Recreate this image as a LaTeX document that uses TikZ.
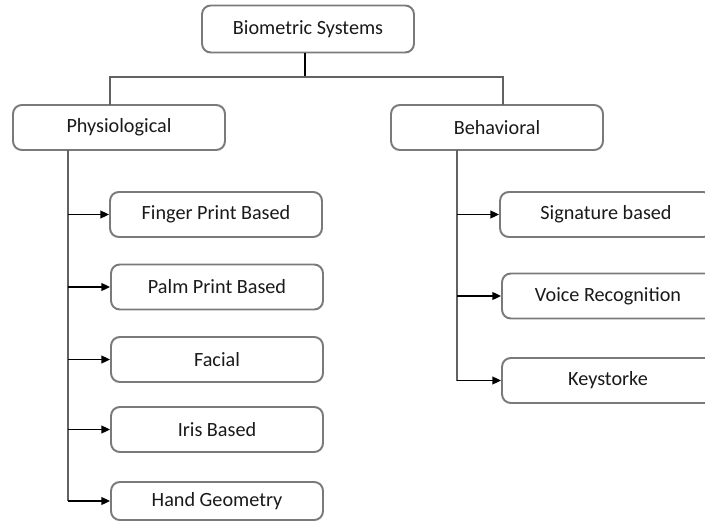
\documentclass[tikz,border=0pt]{standalone}
\usepackage{fontspec}
\setmainfont{Carlito}
\usetikzlibrary{arrows.meta,positioning,calc}
\definecolor{Ink}{HTML}{1A1A1A}
\definecolor{Edge}{HTML}{7A7A7A}

\begin{document}
\begin{tikzpicture}[x=0.02cm,y=-0.02cm,
  box/.style={draw=Edge,line width=1.1pt,rounded corners=5pt,fill=white,minimum width=4.24cm,minimum height=0.9cm,inner sep=0pt,font=\fontsize{11.5}{13}\selectfont,text=Ink},
  link/.style={draw=Edge!80!black,line width=1.1pt},
  arr/.style={draw=black,line width=0.9pt,-{Triangle[length=5pt,width=4.5pt]}}]
\useasboundingbox (0,0) rectangle (705,523);
\clip (0,0) rectangle (705,523);
% top level
\node[box,minimum height=0.94cm] (bio) at (308,29) {Biometric Systems};
\node[box] (phys) at (119,127.5) {Physiological};
\node[box] (behav) at (497,127.5) {Behavioral};
% physiological branch
\node[box] (finger) at (216,214.5) {Finger Print Based};
\node[box] (palm) at (217,287) {Palm Print Based};
\node[box] (facial) at (217,359.5) {Facial};
\node[box] (iris) at (217,429.5) {Iris Based};
\node[box,minimum height=0.76cm] (hand) at (217,501) {Hand Geometry};
% behavioral branch
\node[box] (sign) at (606,214.5) {Signature based};
\node[box] (voice) at (608,296) {Voice Recognition};
\node[box] (keys) at (608,380.5) {Keystorke};
% connectors
\coordinate (split) at (305,77);
\coordinate (pj) at (110,105);
\coordinate (bj) at (503,105);
\draw[link,draw=black] (bio.south -| split) -- (split);
\draw[link] (pj) |- (split) -| (bj);
\coordinate (ptrunk) at (68,150);
\coordinate (btrunk) at (457,150);
\draw[link] (ptrunk) -- (ptrunk |- hand.west);
\draw[link] (btrunk) -- (btrunk |- keys.west);
\foreach \n in {finger,palm,facial,iris,hand} \draw[arr] (ptrunk |- \n.west) -- (\n.west);
\foreach \n in {sign,voice,keys} \draw[arr] (btrunk |- \n.west) -- (\n.west);
\end{tikzpicture}
\end{document}
